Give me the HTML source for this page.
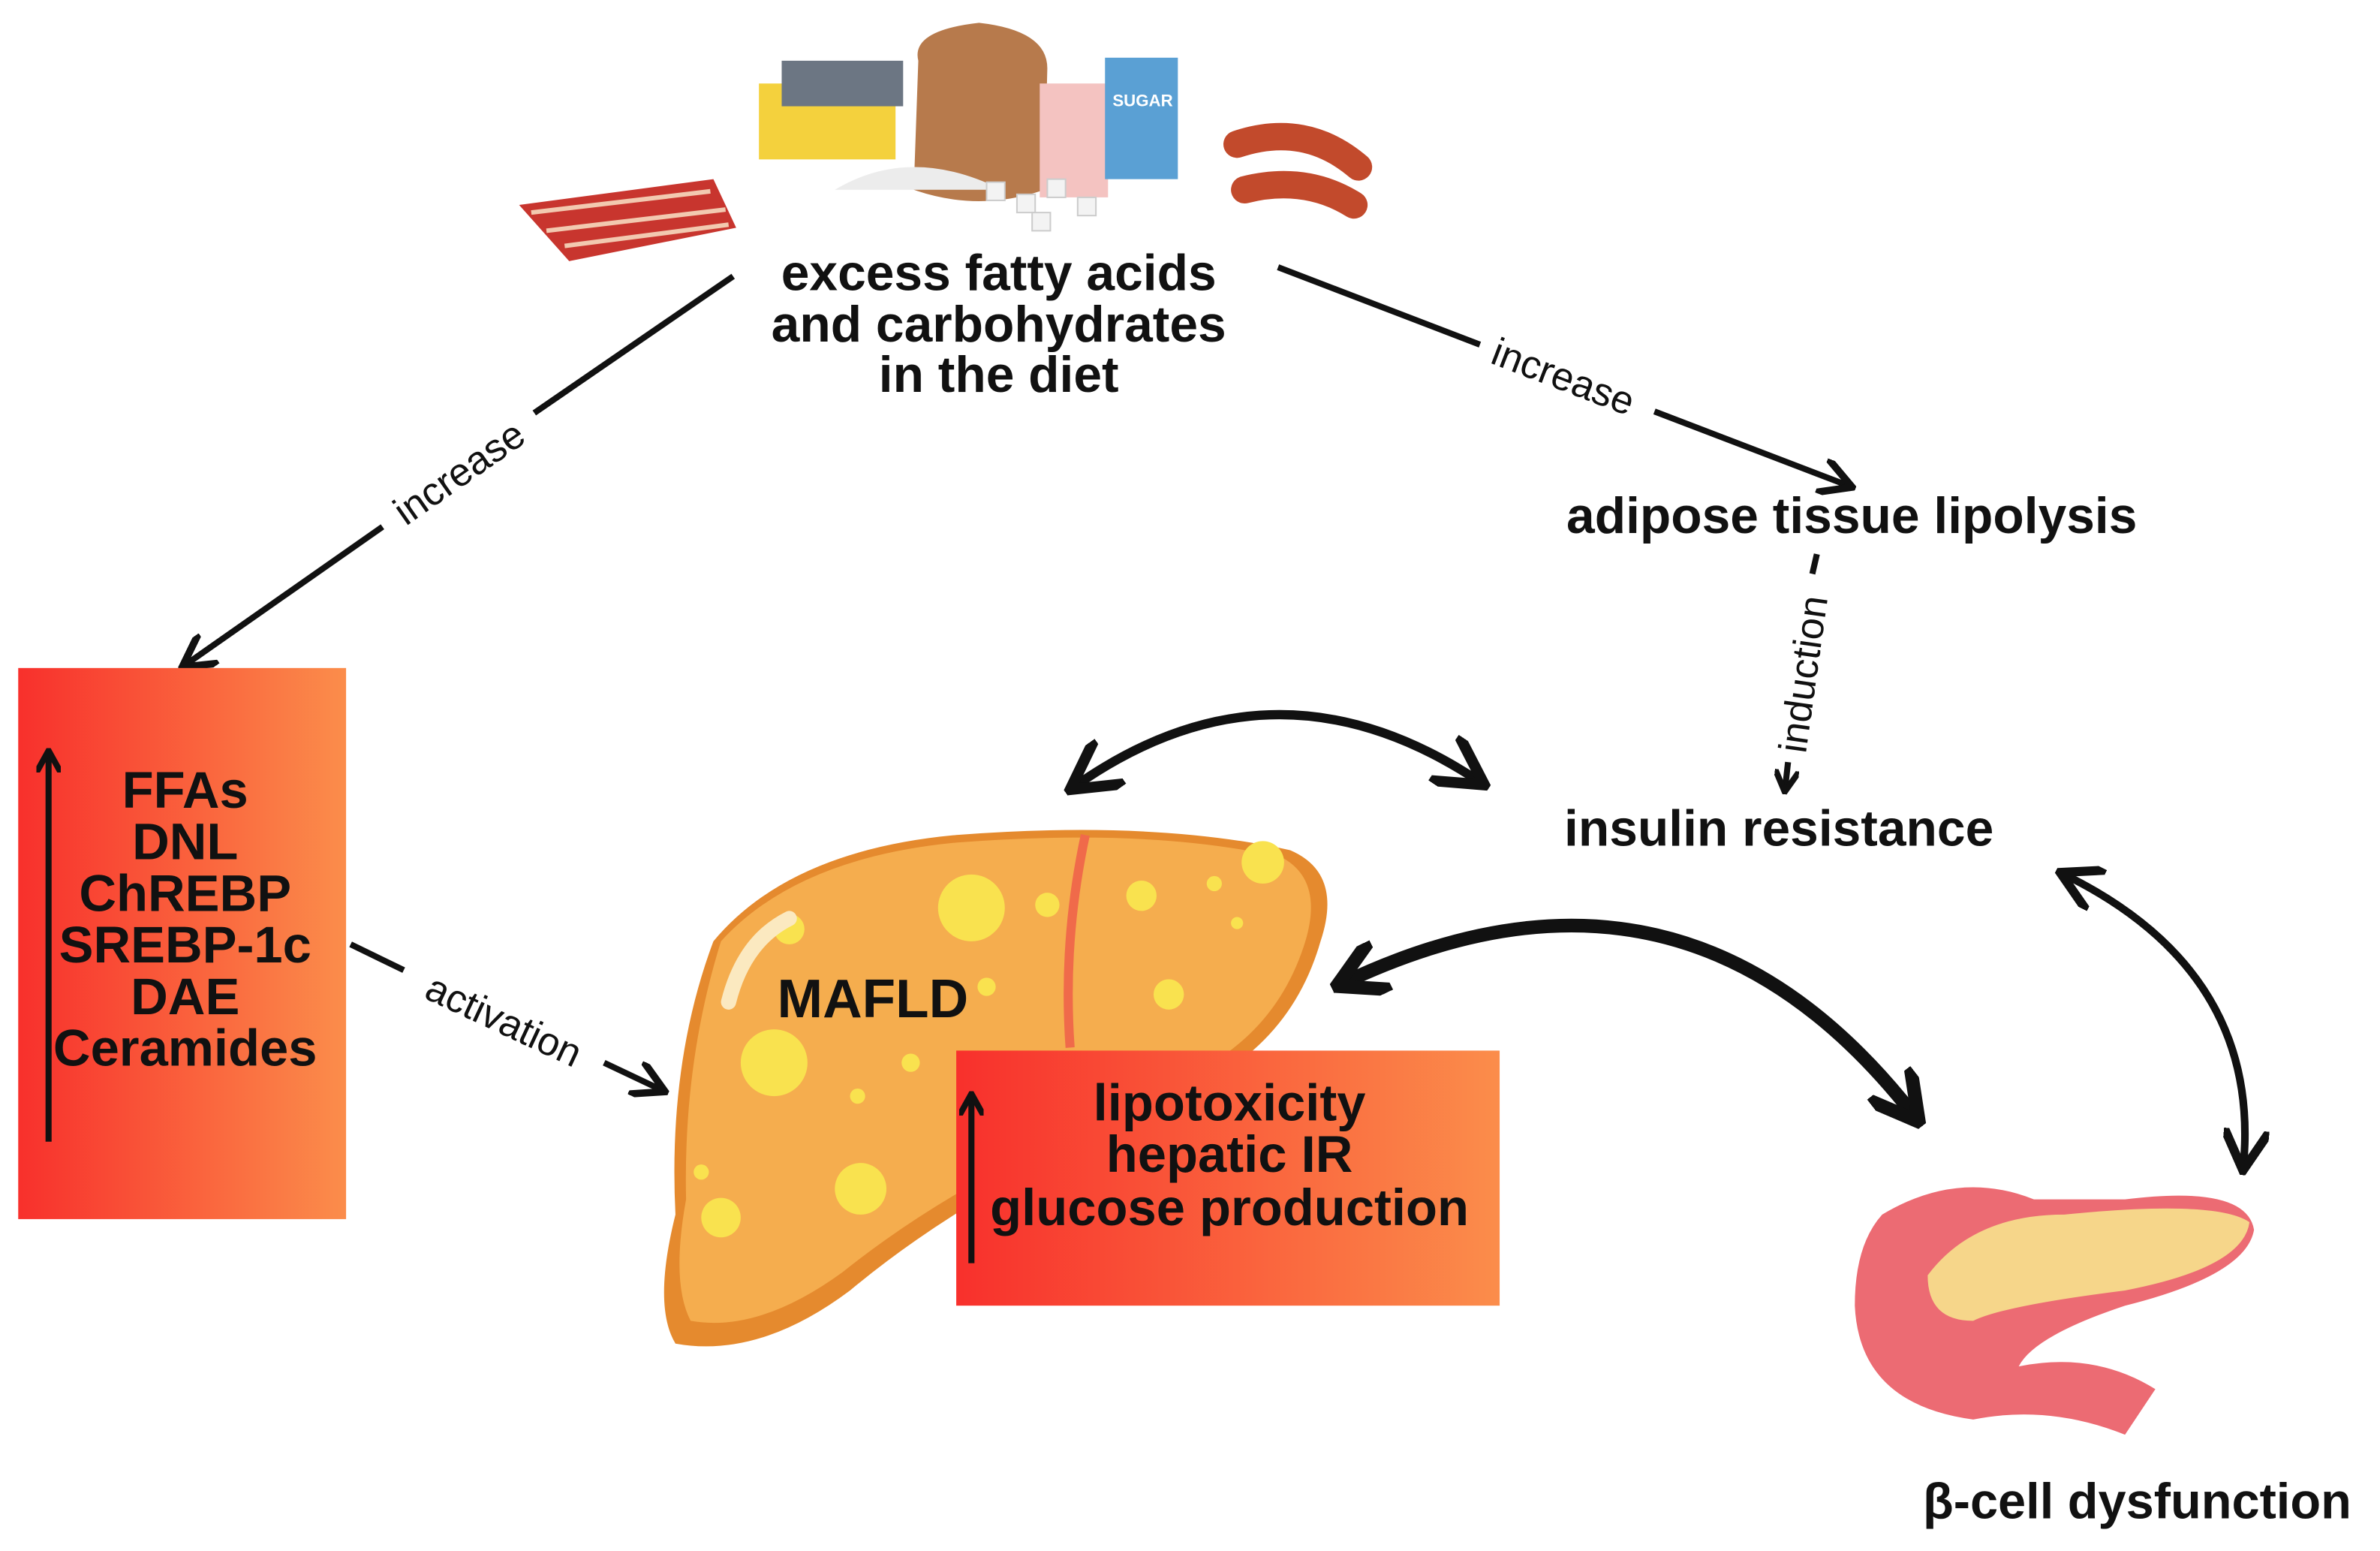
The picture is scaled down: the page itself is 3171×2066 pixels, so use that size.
<!DOCTYPE html>
<html><head><meta charset="utf-8"><style>
html,body{margin:0;padding:0;background:#fff;}
svg{display:block;}
text{font-family:"Liberation Sans","DejaVu Sans",sans-serif;}
.b{font-weight:bold;fill:#111;}
</style></head><body>
<svg width="3171" height="2066" viewBox="0 0 1568 1021.6" xmlns="http://www.w3.org/2000/svg">
<defs>
<linearGradient id="g" x1="0" x2="1" y1="0" y2="0"><stop offset="0" stop-color="#f8302c"/><stop offset="1" stop-color="#fb8d4b"/></linearGradient>
<marker id="ah" viewBox="0 0 10 10" refX="8" refY="5" markerWidth="6" markerHeight="6" orient="auto-start-reverse"><path d="M0,0 L9,5 L0,10" fill="none" stroke="#111" stroke-width="2"/></marker>
<marker id="ahs" viewBox="0 0 10 10" refX="8" refY="5" markerWidth="4" markerHeight="4" orient="auto-start-reverse"><path d="M0,0 L9,5 L0,10" fill="none" stroke="#111" stroke-width="2.5"/></marker>
</defs>

<g>
<path d="M342,135 L470,118 L485,150 L375,172 Z" fill="#c8352e"/>
<path d="M350,140 L468,126 M360,152 L478,138 M372,162 L480,148" stroke="#f2c9b0" stroke-width="3"/>
<rect x="500" y="55" width="90" height="50" fill="#f4d13d" transform="skew(-10)"/>
<rect x="515" y="40" width="80" height="30" fill="#6c7683"/>
<path d="M605,40 Q600,20 645,15 Q690,20 690,45 L688,125 Q645,140 602,125 Z" fill="#b77a4c"/>
<path d="M550,125 Q600,95 660,125 Z" fill="#ececec"/>
<rect x="685" y="55" width="45" height="75" fill="#f4c3c1"/>
<rect x="728" y="38" width="48" height="80" fill="#5aa0d4"/>
<text x="733" y="70" font-size="11" fill="#fff" font-weight="bold">SUGAR</text>
<g fill="#f3f3f3" stroke="#ccc" stroke-width="1"><rect x="650" y="120" width="12" height="12"/><rect x="670" y="128" width="12" height="12"/><rect x="690" y="118" width="12" height="12"/><rect x="710" y="130" width="12" height="12"/><rect x="680" y="140" width="12" height="12"/></g>
<path d="M815,95 Q860,80 895,110" stroke="#c24a2c" stroke-width="18" fill="none" stroke-linecap="round"/>
<path d="M820,125 Q860,115 892,135" stroke="#c24a2c" stroke-width="18" fill="none" stroke-linecap="round"/>
</g>

<text class="b" font-size="33.5" text-anchor="middle"><tspan x="658" y="191">excess fatty acids</tspan><tspan x="658" y="225">and carbohydrates</tspan><tspan x="658" y="258">in the diet</tspan></text>

<line x1="483" y1="182" x2="352" y2="272" stroke="#111" stroke-width="4"/>
<line x1="252" y1="347" x2="122" y2="438" stroke="#111" stroke-width="4" marker-end="url(#ah)"/>
<text x="303" y="320" font-size="26" text-anchor="middle" transform="rotate(-35 303 312)" fill="#111">increase</text>

<line x1="842" y1="176" x2="975" y2="227" stroke="#111" stroke-width="4"/>
<line x1="1090" y1="271" x2="1218" y2="320" stroke="#111" stroke-width="4" marker-end="url(#ah)"/>
<text x="1030" y="257" font-size="26" text-anchor="middle" transform="rotate(21 1030 248)" fill="#111">increase</text>

<text class="b" font-size="33.5" x="1220" y="351" text-anchor="middle">adipose tissue lipolysis</text>

<line x1="1197" y1="365" x2="1194" y2="378" stroke="#111" stroke-width="4"/>
<line x1="1178" y1="502" x2="1176" y2="520" stroke="#111" stroke-width="4" marker-end="url(#ahs)"/>
<text x="1188" y="453" font-size="26" text-anchor="middle" transform="rotate(-82 1188 444)" fill="#111">induction</text>

<text class="b" font-size="33.5" x="1172" y="557" text-anchor="middle">insulin resistance</text>

<rect x="12" y="440" width="216" height="363" fill="url(#g)"/>
<line x1="32" y1="752" x2="32" y2="496" stroke="#111" stroke-width="4" marker-end="url(#ahs)"/>
<text class="b" font-size="34" text-anchor="middle"><tspan x="122" y="532">FFAs</tspan><tspan x="122" y="566">DNL</tspan><tspan x="122" y="600">ChREBP</tspan><tspan x="122" y="634">SREBP-1c</tspan><tspan x="122" y="668">DAE</tspan><tspan x="122" y="702">Ceramides</tspan></text>

<line x1="231" y1="622" x2="266" y2="639" stroke="#111" stroke-width="4"/>
<line x1="398" y1="700" x2="436" y2="718" stroke="#111" stroke-width="4" marker-end="url(#ah)"/>
<text x="332" y="681" font-size="26" text-anchor="middle" transform="rotate(25 332 672)" fill="#111">activation</text>

<path d="M470,620 Q520,560 630,550 Q760,540 850,560 Q885,575 870,620 Q850,690 780,720 L700,760 Q620,800 560,850 Q500,895 445,885 Q430,860 445,800 Q440,700 470,620 Z" fill="#e58a2e"/>
<path d="M475,620 Q525,565 630,555 Q760,545 845,565 Q872,580 860,620 Q840,685 775,712 L695,752 Q615,790 555,838 Q500,878 455,870 Q442,845 452,790 Q450,700 475,620 Z" fill="#f5ad4e"/>
<path d="M715,550 Q700,620 705,690" stroke="#f06a4a" stroke-width="6" fill="none"/>
<g fill="#f9e24f">
<circle cx="640" cy="598" r="22"/><circle cx="510" cy="700" r="22"/><circle cx="567" cy="783" r="17"/><circle cx="475" cy="802" r="13"/><circle cx="770" cy="655" r="10"/><circle cx="832" cy="568" r="14"/><circle cx="752" cy="590" r="10"/><circle cx="690" cy="596" r="8"/><circle cx="520" cy="612" r="10"/><circle cx="800" cy="582" r="5"/><circle cx="462" cy="772" r="5"/><circle cx="600" cy="700" r="6"/><circle cx="565" cy="722" r="5"/><circle cx="650" cy="650" r="6"/><circle cx="815" cy="608" r="4"/></g>
<path d="M480,660 Q490,620 520,605" stroke="#fbe9c0" stroke-width="10" fill="none" stroke-linecap="round"/>
<text class="b" font-size="36" x="575" y="670" text-anchor="middle">MAFLD</text>

<rect x="630" y="692" width="358" height="168" fill="url(#g)"/>
<line x1="640" y1="832" x2="640" y2="722" stroke="#111" stroke-width="4" marker-end="url(#ahs)"/>
<text class="b" font-size="34" text-anchor="middle"><tspan x="810" y="738">lipotoxicity</tspan><tspan x="810" y="772">hepatic IR</tspan><tspan x="810" y="807">glucose production</tspan></text>

<path d="M708,518 Q840,425 975,515" fill="none" stroke="#111" stroke-width="6" marker-start="url(#ah)" marker-end="url(#ah)"/>
<path d="M884,648 Q1110,540 1262,736" fill="none" stroke="#111" stroke-width="9" marker-start="url(#ahs)" marker-end="url(#ahs)"/>
<path d="M1360,576 Q1490,640 1478,768" fill="none" stroke="#111" stroke-width="5" marker-start="url(#ah)" marker-end="url(#ah)"/>

<path d="M1240,800 Q1290,770 1340,790 L1400,790 Q1480,780 1485,810 Q1480,840 1400,860 Q1340,880 1330,900 Q1380,890 1420,915 L1400,945 Q1350,925 1300,935 Q1225,925 1222,860 Q1222,820 1240,800 Z" fill="#ec6b73"/>
<path d="M1270,840 Q1300,800 1360,800 Q1460,790 1482,805 Q1478,835 1400,850 Q1320,860 1300,870 Q1270,870 1270,840 Z" fill="#f6d68a"/>
<text class="b" font-size="33" x="1408" y="1000" text-anchor="middle">β-cell dysfunction</text>
</svg>
</body></html>
